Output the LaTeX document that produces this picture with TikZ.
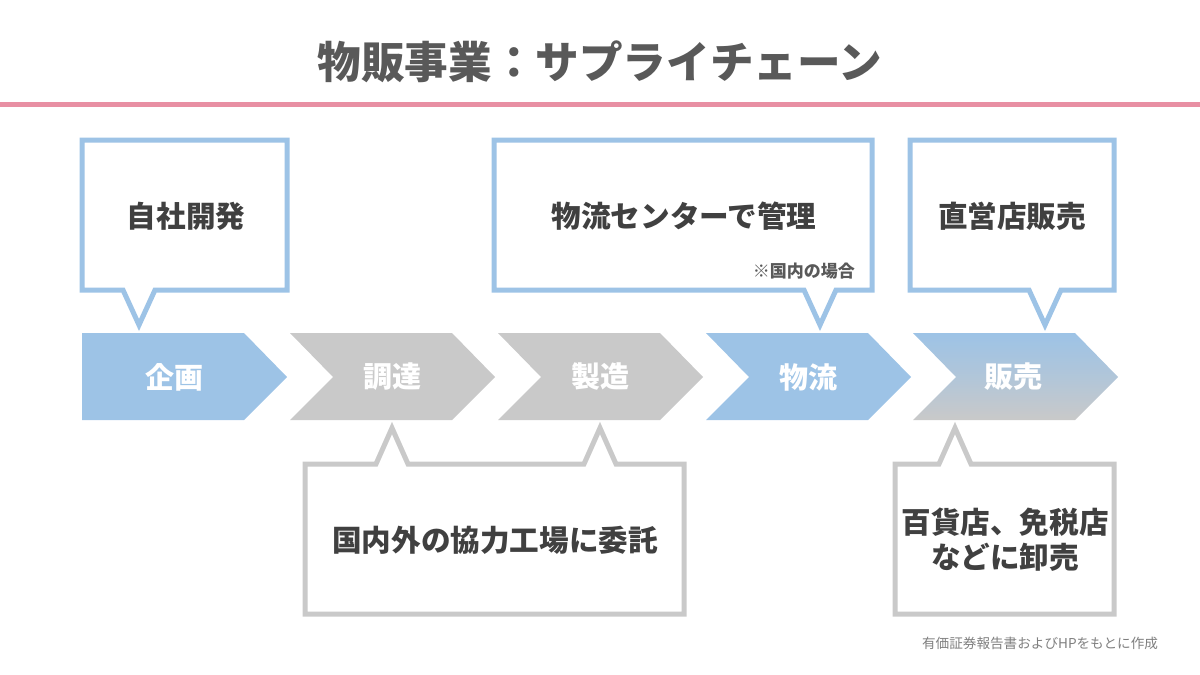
\documentclass[tikz,border=0pt]{standalone}
\usepackage{fontspec}
\setmainfont{Noto Sans CJK JP}
\usepackage{tikz}
\usetikzlibrary{calc,positioning}

\definecolor{stepblue}{HTML}{9DC3E6}
\definecolor{stepgray}{HTML}{C9C9C9}
\definecolor{titlegray}{HTML}{595959}
\definecolor{textgray}{HTML}{404040}
\definecolor{notegray}{HTML}{7F7F7F}
\definecolor{rulepink}{HTML}{E88FA3}

\begin{document}
\begin{tikzpicture}
	[x=0.5pt,y=-0.5pt,
	 bluebox/.style={draw=stepblue, line width=2.5pt, fill=white},
	 graybox/.style={draw=stepgray, line width=2.5pt, fill=white},
	 steplabel/.style={text=white, font=\bfseries\fontsize{14.5}{16}\selectfont},
	 boxtext/.style={text=textgray, font=\bfseries\fontsize{14.8}{17.5}\selectfont, align=center}]
	
	\useasboundingbox (0,0) rectangle (1200,675);
	
	% title and rule
	\node[text=titlegray, font=\bfseries\fontsize{21.8}{24}\selectfont] (title) at (600,62) {物販事業：サプライチェーン};
	\draw[rulepink, line width=2.5pt] (0,104) -- (1200,104);
	
	% steps
	\fill[stepblue] (82,333) -- (244,333) -- (287,377) -- (244,420) -- (82,420) -- cycle;
	\node[steplabel] (plan) at (174,377) {企画};
	
	\foreach \s/\lbl/\col/\nm in {290/調達/stepgray/procure, 498/製造/stepgray/make, 706/物流/stepblue/logi}
	{
		\fill[\col] (\s,333) -- (\s+162,333) -- (\s+205,377) -- (\s+162,420) -- (\s,420) -- (\s+43,377) -- cycle;
		\node[steplabel] (\nm) at (\s+102,377) {\lbl};
	}
	
	\shade[top color=stepblue, bottom color=stepgray, middle color=stepblue!55!stepgray]
		(913,333) -- (1075,333) -- (1118,377) -- (1075,420) -- (913,420) -- (956,377) -- cycle;
	\node[steplabel] (sales) at (1013,377) {販売};
	
	% callouts above
	\filldraw[bluebox] (82,140) -- (287,140) -- (287,290) -- (155,290) -- (139,325) -- (123,290) -- (82,290) -- cycle;
	\node[boxtext] (plantext) at (186,216) {自社開発};
	
	\filldraw[bluebox] (494,140) -- (872,140) -- (872,290) -- (836,290) -- (820,325) -- (804,290) -- (494,290) -- cycle;
	\node[boxtext] (logitext) at (684,216) {物流センターで管理};
	\node[anchor=east, text=titlegray, font=\bfseries\fontsize{8.5}{10}\selectfont] (loginote) at (862,271) {※国内の場合};
	
	\filldraw[bluebox] (910,140) -- (1114,140) -- (1114,290) -- (1061,290) -- (1045,325) -- (1029,290) -- (910,290) -- cycle;
	\node[boxtext] (salestext) at (1012,216) {直営店販売};
	
	% callouts below
	\filldraw[graybox] (305,464) -- (376,464) -- (392,428) -- (408,464) -- (584,464) -- (600,428) -- (616,464) -- (684,464) -- (684,614) -- (305,614) -- cycle;
	\node[boxtext] (maketext) at (495,540) {国内外の協力工場に委託};
	
	\filldraw[graybox] (895,464) -- (939,464) -- (955,428) -- (971,464) -- (1114,464) -- (1114,614) -- (895,614) -- cycle;
	\node[boxtext] (wholesale) at (1005,540) {百貨店、免税店\\などに卸売};
	
	% source
	\node[anchor=east, text=notegray, font=\fontsize{6.8}{8}\selectfont] (source) at (1165,643) {有価証券報告書およびHPをもとに作成};
\end{tikzpicture}
\end{document}
